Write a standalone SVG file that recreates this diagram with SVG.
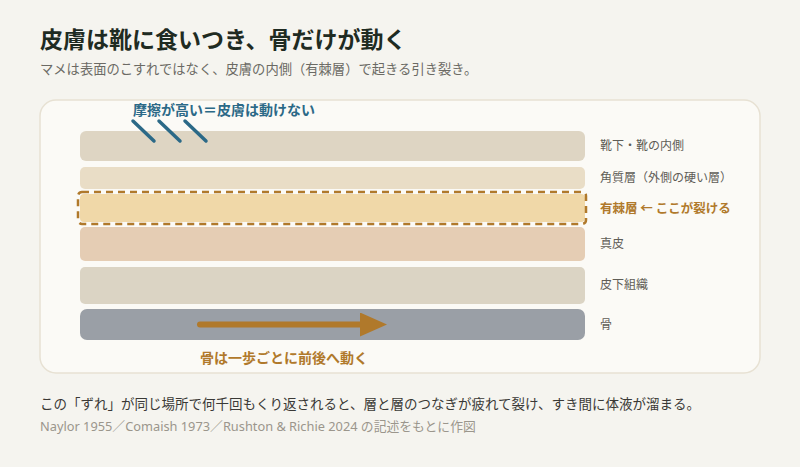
<svg xmlns="http://www.w3.org/2000/svg" width="800" height="467" viewBox="0 0 800 467">
<defs>
<style>
text{font-family:"Noto Sans CJK JP","Noto Sans",sans-serif;}
.title{font-size:23px;font-weight:700;fill:#1f2b22;}
.sub{font-size:13.3px;fill:#6b6a64;}
.lbl{font-size:12px;fill:#5f5d57;}
.hot{font-size:12.5px;font-weight:700;fill:#b0792b;}
.blue{font-size:14px;font-weight:700;fill:#2b6987;}
.orange{font-size:14px;font-weight:700;fill:#b0792b;}
.note{font-size:13.5px;fill:#3a3936;}
.cite{font-family:"Noto Sans","Noto Sans CJK JP",sans-serif;font-size:12.8px;fill:#9b968c;}
.fric{stroke:#2b6987;stroke-width:3.5;stroke-linecap:round;fill:none;}
</style>
<marker id="ah" viewBox="0 0 10 10" refX="0" refY="5" markerWidth="4.5" markerHeight="4" markerUnits="strokeWidth" orient="auto" preserveAspectRatio="none">
<path d="M0,0 L10,5 L0,10 Z" fill="#b0792b"/>
</marker>
</defs>
<rect x="0" y="0" width="800" height="467" fill="#f5f4ef"/>
<text class="title" x="40" y="48">皮膚は靴に食いつき、骨だけが動く</text>
<text class="sub" x="40" y="74">マメは表面のこすれではなく、皮膚の内側（有棘層）で起きる引き裂き。</text>
<rect x="40" y="100" width="720" height="273" rx="16" fill="#fbfaf6" stroke="#e7e1d3" stroke-width="1.5"/>
<g id="sock">
<rect x="80" y="131" width="505" height="30" rx="6" fill="#ded5c3"/>
<text class="lbl" x="600" y="150">靴下・靴の内側</text>
</g>
<g id="stratum-corneum">
<rect x="80" y="167" width="505" height="22" rx="5" fill="#e9ddc6"/>
<text class="lbl" x="600" y="182">角質層（外側の硬い層）</text>
</g>
<g id="stratum-spinosum">
<rect x="80" y="194" width="505" height="28" rx="4" fill="#f0d8a8"/>
<rect x="78" y="192" width="508" height="32" rx="4" fill="none" stroke="#b0792b" stroke-width="2.5" stroke-dasharray="7 5"/>
<text class="hot" x="600" y="213">有棘層 ← ここが裂ける</text>
</g>
<g id="dermis">
<rect x="80" y="227" width="505" height="34" rx="5" fill="#e5cdb4"/>
<text class="lbl" x="600" y="248">真皮</text>
</g>
<g id="subcutis">
<rect x="80" y="267" width="505" height="37" rx="5" fill="#dbd4c4"/>
<text class="lbl" x="600" y="289">皮下組織</text>
</g>
<g id="bone">
<rect x="80" y="309" width="505" height="31" rx="7" fill="#9a9fa6"/>
<text class="lbl" x="600" y="329">骨</text>
</g>
<g id="friction">
<line class="fric" x1="133" y1="121" x2="154" y2="141"/>
<line class="fric" x1="159" y1="121" x2="180" y2="141"/>
<line class="fric" x1="185" y1="121" x2="206" y2="141"/>
<text class="blue" x="133" y="115">摩擦が高い＝皮膚は動けない</text>
</g>
<g id="connectors">
<line x1="200" y1="324.5" x2="360" y2="324.5" stroke="#b0792b" stroke-width="6" stroke-linecap="round" marker-end="url(#ah)"/>
</g>
<text class="orange" x="200" y="363">骨は一歩ごとに前後へ動く</text>
<text class="note" x="40" y="409">この「ずれ」が同じ場所で何千回もくり返されると、層と層のつなぎが疲れて裂け、すき間に体液が溜まる。</text>
<text class="cite" x="40" y="431">Naylor 1955／Comaish 1973／Rushton &amp; Richie 2024 の記述をもとに作図</text>
</svg>
